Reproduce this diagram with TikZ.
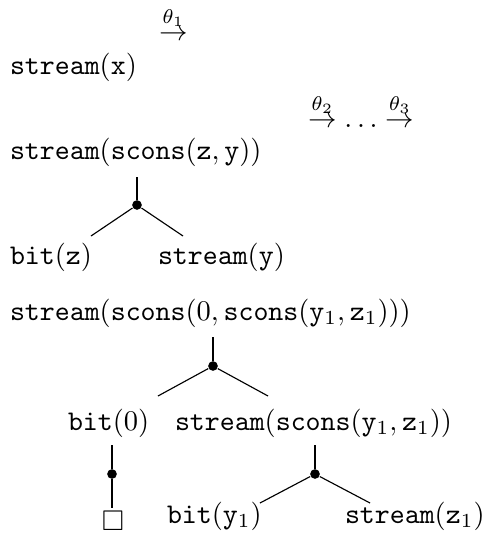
\documentclass[tikz,border=0pt]{standalone}
\usepackage{amssymb}
\begin{document}
\begin{tikzpicture}[x=0.351pt,y=-0.351pt,
  lbl/.style={anchor=base west,inner sep=0pt,outer sep=0pt},
  dotn/.style={circle,fill=black,inner sep=0pt,minimum size=3.4pt},
  conn/.style={line width=0.4pt}]
\useasboundingbox (0,0) rectangle (490,543);
% line 1
\node[lbl] (s1) at (10,74) {$\mathtt{stream}(\mathtt{x})$};
\node[lbl] (a1) at (159,40) {$\stackrel{\theta_1}{\to}$};
% line 2
\node[lbl] (a2) at (308,127) {$\stackrel{\theta_2}{\to}\ldots\stackrel{\theta_3}{\to}$};
\node[lbl] (s2) at (10,159) {$\mathtt{stream}(\mathtt{scons}(\mathtt{z},\mathtt{y}))$};
\node[lbl] (bz) at (10,264) {$\mathtt{bit}(\mathtt{z})$};
\node[lbl] (sy) at (158,264) {$\mathtt{stream}(\mathtt{y})$};
% tree 1
\coordinate (t1) at (137,177);
\node[dotn] (d1) at (137,205) {};
\coordinate (l1) at (91,236);
\coordinate (r1) at (183,236);
\draw[conn] (t1) -- (d1);
\draw[conn] (d1) -- (l1);
\draw[conn] (d1) -- (r1);
% line 3
\node[lbl] (s3) at (10,320) {$\mathtt{stream}(\mathtt{scons}(0,\mathtt{scons}(\mathtt{y}_1,\mathtt{z}_1)))$};
\coordinate (t2) at (213,337);
\node[dotn] (d2) at (213,366) {};
\coordinate (l2) at (158,396);
\coordinate (r2) at (268,396);
\draw[conn] (t2) -- (d2);
\draw[conn] (d2) -- (l2);
\draw[conn] (d2) -- (r2);
\node[lbl] (b0) at (68,430) {$\mathtt{bit}(0)$};
\node[lbl] (s4) at (175,430) {$\mathtt{stream}(\mathtt{scons}(\mathtt{y}_1,\mathtt{z}_1))$};
% tree 3
\coordinate (t3) at (112,445);
\node[dotn] (d3) at (112,474) {};
\coordinate (e3) at (112,508);
\draw[conn] (t3) -- (d3);
\draw[conn] (d3) -- (e3);
% tree 4
\coordinate (t4) at (315,445);
\node[dotn] (d4) at (315,474) {};
\coordinate (l4) at (260,503);
\coordinate (r4) at (370,503);
\draw[conn] (t4) -- (d4);
\draw[conn] (d4) -- (l4);
\draw[conn] (d4) -- (r4);
% bottom row
\node[lbl] (bx) at (102,530) {$\square$};
\node[lbl] (by) at (167,523) {$\mathtt{bit}(\mathtt{y}_1)$};
\node[lbl] (sz) at (345,523) {$\mathtt{stream}(\mathtt{z}_1)$};
\end{tikzpicture}
\end{document}
